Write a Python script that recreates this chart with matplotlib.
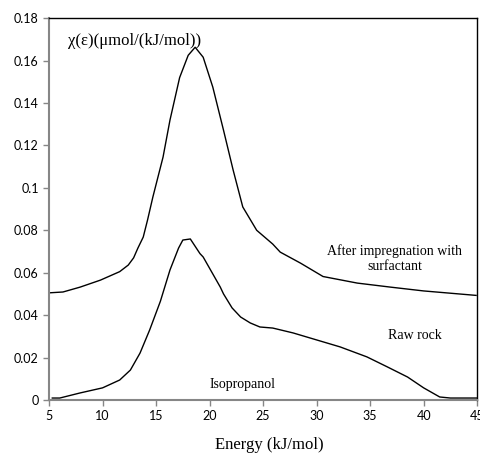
import matplotlib
matplotlib.use("Agg")
import matplotlib.pyplot as plt

# After impregnation with surfactant
x_surf = [5.0, 6.3, 7.9, 9.8, 11.6, 12.4, 12.9, 13.3, 13.8, 14.2, 14.7, 15.65, 16.3, 17.2, 18.0, 18.65,
          19.4, 20.3, 21.3, 22.2, 23.1, 24.4, 25.9, 26.6, 28.5, 30.6, 33.8, 36.9, 40.0, 44.9]
y_surf = [0.0505, 0.0509, 0.0532, 0.0565, 0.0605, 0.0636, 0.0670, 0.0716, 0.0768, 0.0848, 0.0957, 0.1145,
          0.132, 0.152, 0.1625, 0.1663, 0.1616, 0.1475, 0.1272, 0.1084, 0.091, 0.080, 0.0735, 0.0697,
          0.0645, 0.0582, 0.0551, 0.0532, 0.0514, 0.0493]

# Raw rock / isopropanol
x_raw = [5.3, 6.0, 7.9, 10.0, 11.6, 12.6, 13.5, 14.4, 15.4, 16.3, 17.1, 17.5, 18.2, 19.1, 19.4, 21.0,
         21.3, 22.1, 22.9, 23.8, 24.7, 25.9, 27.8, 30.0, 32.2, 34.7, 36.6, 38.5, 40.0, 41.5, 42.5, 45.0]
y_raw = [0.0009, 0.0009, 0.0033, 0.0057, 0.0094, 0.0141, 0.0221, 0.033, 0.0465, 0.0613, 0.0716, 0.0754,
         0.0759, 0.0690, 0.0674, 0.0532, 0.0500, 0.0434, 0.0391, 0.0363, 0.0344, 0.0339, 0.0316, 0.0283,
         0.0250, 0.0203, 0.0156, 0.0108, 0.0057, 0.0014, 0.0009, 0.0009]

x_ticks = [5, 10, 15, 20, 25, 30, 35, 40, 45]
y_ticks = [0, 0.02, 0.04, 0.06, 0.08, 0.1, 0.12, 0.14, 0.16, 0.18]
y_tick_labels = ["0", "0.02", "0.04", "0.06", "0.08", "0.1", "0.12", "0.14", "0.16", "0.18"]

fig = plt.figure(figsize=(4.81, 4.55), dpi=100)
ax = fig.add_axes([0.102, 0.121, 0.890, 0.839])

ax.plot(x_surf, y_surf, color="black", lw=1.0)
ax.plot(x_raw, y_raw, color="black", lw=1.0)

ax.set_xlim(5, 45)
ax.set_ylim(0, 0.18)
ax.set_xticks(x_ticks)
ax.set_yticks(y_ticks)
ax.set_yticklabels(y_tick_labels)

for s in ["left", "bottom"]:
    ax.spines[s].set_color("#868686")
    ax.spines[s].set_linewidth(1.5)
for s in ["top", "right"]:
    ax.spines[s].set_color("black")
    ax.spines[s].set_linewidth(1.0)

ax.tick_params(axis="both", direction="out", length=4, width=1, color="#868686",
               labelsize=9, labelcolor="black")
for lab in ax.get_xticklabels() + ax.get_yticklabels():
    lab.set_family("Lato")

serif = "Liberation Serif"
ax.text(0.044, 0.940, "χ(ε)(μmol/(kJ/mol))", transform=ax.transAxes, family=serif,
        fontsize=12, ha="left", va="center")
ax.text(37.3, 0.0667, "After impregnation with\nsurfactant", family=serif, fontsize=10,
        ha="center", va="center", linespacing=1.2)
ax.text(39.2, 0.0305, "Raw rock", family=serif, fontsize=10, ha="center", va="center")
ax.text(23.1, 0.0075, "Isopropanol", family=serif, fontsize=10, ha="center", va="center")
ax.set_xlabel("Energy (kJ/mol)", family=serif, fontsize=12)
ax.xaxis.set_label_coords(0.515, -0.098)

fig.savefig("out.png", dpi=100)
